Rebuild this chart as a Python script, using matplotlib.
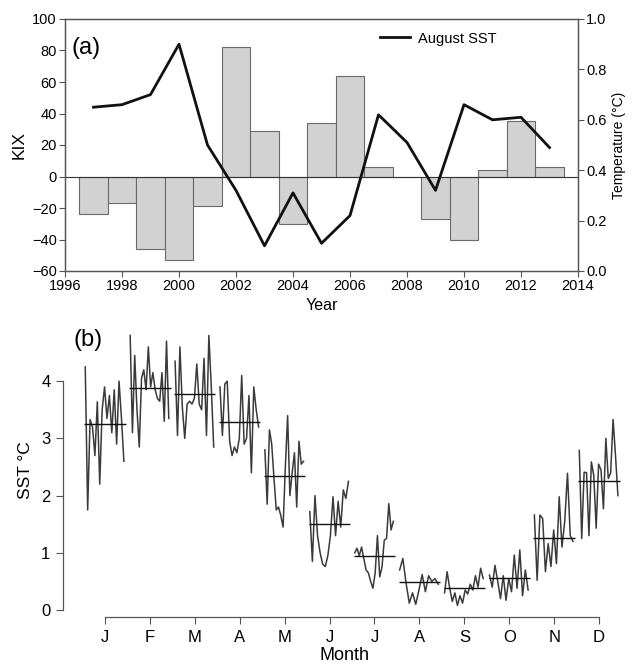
import numpy as np
import matplotlib.pyplot as plt

plt.rcParams['font.family'] = ['Liberation Sans', 'DejaVu Sans']

# ---- panel (a): KIX bars and August SST ----
years = [1997, 1998, 1999, 2000, 2001, 2002, 2003, 2004, 2005,
         2006, 2007, 2008, 2009, 2010, 2011, 2012, 2013]
kix = [-24, -17, -46, -53, -19, 82, 29, -30, 34,
       64, 6, 0, -27, -40, 4, 35, 6]
aug_sst = [0.65, 0.66, 0.70, 0.90, 0.50, 0.32, 0.10, 0.31, 0.11,
           0.22, 0.62, 0.51, 0.32, 0.66, 0.60, 0.61, 0.49]

# ---- panel (b): monthly SST subseries ----
month_labels = ['J', 'F', 'M', 'A', 'M', 'J', 'J', 'A', 'S', 'O', 'N', 'D']
jan = [4.25, 1.75, 3.33, 3.2, 2.7, 3.64, 2.2, 3.5, 3.9, 3.35, 3.75, 3.1, 3.85, 2.9, 4.0, 3.35, 2.6]
feb = [4.8, 3.1, 4.45, 3.5, 2.85, 4.05, 4.2, 3.85, 4.6, 3.9, 4.15, 3.85, 3.7, 3.65, 4.15, 3.3, 4.7, 3.35]
mar = [4.35, 3.05, 4.6, 3.55, 3.0, 3.6, 3.65, 3.6, 3.7, 4.3, 3.6, 3.5, 4.4, 3.05, 4.8, 3.9, 2.85]
apr = [3.9, 3.05, 3.95, 4.0, 2.95, 2.7, 2.85, 2.75, 3.0, 4.1, 2.9, 3.0, 3.75, 2.4, 3.9, 3.5, 3.2]
may = [2.8, 1.85, 3.15, 2.9, 2.3, 1.75, 1.8, 1.65, 1.45, 2.5, 3.4, 2.0, 2.4, 2.75, 1.8, 2.95, 2.55, 2.6]
jun = [1.72, 0.85, 2.0, 1.3, 1.0, 0.8, 0.76, 0.95, 1.3, 1.98, 1.3, 1.9, 1.45, 2.1, 1.95, 2.25]
jul = [1.0, 1.08, 0.95, 1.1, 0.9, 0.7, 0.65, 0.5, 0.38, 0.65, 1.3, 0.58, 0.75, 1.22, 1.25, 1.86, 1.4, 1.55]
aug = [0.7, 0.9, 0.47, 0.12, 0.3, 0.1, 0.35, 0.62, 0.32, 0.6, 0.5, 0.55, 0.45]
sep = [0.3, 0.67, 0.38, 0.15, 0.3, 0.08, 0.25, 0.12, 0.35, 0.28, 0.45, 0.35, 0.6, 0.4, 0.73, 0.55]
octo = [0.61, 0.4, 0.78, 0.5, 0.2, 0.6, 0.17, 0.55, 0.32, 0.96, 0.38, 1.05, 0.25, 0.7, 0.35]
nov = [1.66, 0.52, 1.66, 1.6, 0.67, 1.16, 0.76, 1.4, 0.81, 1.98, 1.1, 1.55, 2.39, 1.3, 1.2]
dec = [2.79, 1.25, 2.41, 2.4, 1.3, 2.59, 2.35, 1.43, 2.55, 2.45, 1.77, 3.0, 2.3, 2.4, 3.33, 2.7, 2.0]
month_means = [3.25, 3.88, 3.78, 3.28, 2.34, 1.50, 0.95, 0.49, 0.39, 0.56, 1.26, 2.26]

fig = plt.figure(figsize=(6.32, 6.70), dpi=100)
spine_col = '#555555'

# top panel
ax = fig.add_axes([65/632, 1 - 271/670, 513/632, 252/670])
ax.bar(years, kix, width=1.0, color='#d2d2d2', edgecolor='#6a6a6a', linewidth=0.8, zorder=2)
ax.axhline(0, color='#333333', lw=0.8, zorder=3)
ax.set_xlim(1996, 2014)
ax.set_ylim(-60, 100)
ax.set_xticks(np.arange(1996, 2015, 2))
ax.set_yticks(np.arange(-60, 101, 20))
ax.set_yticklabels([str(v).replace('-', '\u2212') for v in range(-60, 101, 20)])
ax.tick_params(direction='out', length=4, width=0.8, color=spine_col, labelsize=10.5, pad=2)
ax.set_ylabel('KIX', fontsize=12.5, labelpad=4)
ax.set_xlabel('Year', fontsize=11.5, labelpad=3)
ax.text(0.012, 0.93, '(a)', transform=ax.transAxes, fontsize=17, va='top', ha='left')
for s in ax.spines.values():
    s.set_color(spine_col)
    s.set_linewidth(0.9)

ax2 = ax.twinx()
ax2.plot(years, aug_sst, color='#111111', lw=2.0, label='August SST', zorder=4)
ax2.set_ylim(0, 1.0)
ax2.set_yticks(np.arange(0, 1.01, 0.2))
ax2.set_yticklabels(['%.1f' % v for v in np.arange(0, 1.01, 0.2)])
ax2.tick_params(direction='out', length=4, width=0.8, color=spine_col, labelsize=10.5, pad=2)
ax2.set_ylabel('Temperature (°C)', fontsize=10, labelpad=4)
for s in ax2.spines.values():
    s.set_color(spine_col)
    s.set_linewidth(0.9)
ax2.legend(loc='upper left', bbox_to_anchor=(0.615, 0.95), frameon=False, fontsize=10.5,
           handlelength=2.0, handletextpad=0.6, borderpad=0, borderaxespad=0)

# bottom panel
bx = fig.add_axes([63/632, 1 - 617/670, (626 - 63)/632, (617 - 324)/670])
series = [jan, feb, mar, apr, may, jun, jul, aug, sep, octo, nov, dec]
for m, vals in enumerate(series, start=1):
    xs = np.linspace(m - 0.44, m + 0.42, len(vals))
    bx.plot(xs, vals, color='#3a3a3a', lw=1.1)
    bx.hlines(month_means[m - 1], m - 0.46, m + 0.46, color='#111111', lw=1.0)
bx.set_xlim(1 - 42/44.9, 12.6)
bx.set_ylim(-7/57.25, 5.0)
bx.set_xticks(range(1, 13))
bx.set_xticklabels(month_labels)
bx.set_yticks([0, 1, 2, 3, 4])
bx.spines['top'].set_visible(False)
bx.spines['right'].set_visible(False)
bx.spines['left'].set_bounds(0, 4)
bx.spines['bottom'].set_bounds(1, 12)
for s in ('left', 'bottom'):
    bx.spines[s].set_color(spine_col)
    bx.spines[s].set_linewidth(0.9)
bx.tick_params(direction='out', length=5, width=0.8, color=spine_col, labelsize=12, pad=4)
bx.set_xlabel('Month', fontsize=13, labelpad=2)
bx.set_ylabel('SST °C', fontsize=12.5, labelpad=6)
bx.text(1 - 32/44.9, 4.72, '(b)', fontsize=17, va='center', ha='left')

fig.savefig('out.png', dpi=100)
